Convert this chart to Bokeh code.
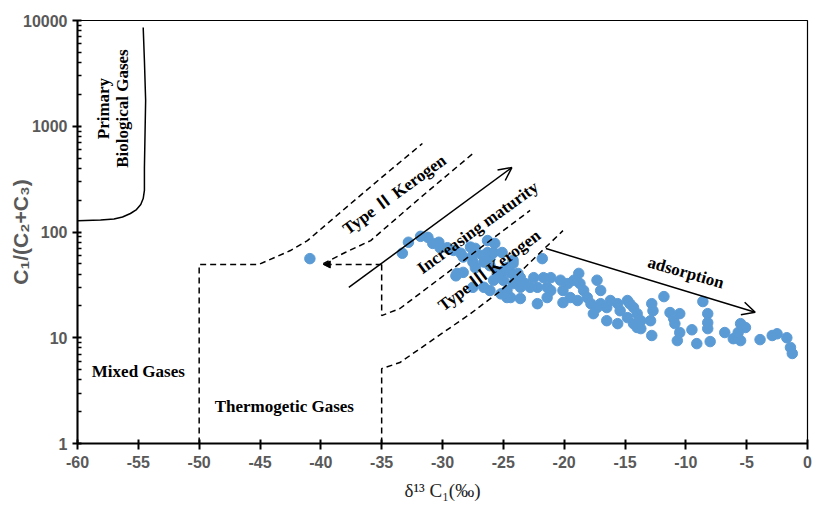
import math
from bokeh.plotting import figure
from bokeh.models import (Range1d, FixedTicker, NumeralTickFormatter, Label,
                          Arrow, OpenHead, NormalHead)
from bokeh.embed import file_html
from bokeh.resources import INLINE

# --- sample data: delta13C1 (permil) and C1/(C2+C3) ---
d13c1 = [
    -40.9, -33.3, -32.8, -31.8, -31.2, -30.8, -30.3, -30.2, -29.6, -29.1,
    -28.5, -28.3, -27.7, -27.3, -27.5, -26.3, -25.7, -26.1, -27.5, -26.7,
    -26.3, -25.8, -25.1, -26.6, -26.1, -27.3, -25.0, -24.4, -24.0, -23.6,
    -22.5, -21.8, -23.2, -22.2, -21.4, -27.5, -26.6, -26.1, -25.2, -24.4,
    -23.6, -24.7, -25.8, -28.8, -28.3, -25.5, -25.0, -24.2, -24.7, -28.9,
    -24.2, -23.8, -24.2, -23.6, -22.8, -21.7, -21.1, -21.1, -21.4, -22.2,
    -24.7, -20.3, -20.1, -19.7, -19.2, -18.8, -18.7, -19.5, -20.1, -18.4,
    -18.1, -18.9, -17.3, -17.0, -17.8, -17.3, -17.6, -17.0, -16.5, -16.2,
    -15.6, -15.4, -16.5, -15.6, -14.8, -14.6, -14.3, -14.8, -14.0, -14.3,
    -14.0, -12.8, -12.7, -12.9, -12.8, -11.8, -13.7, -13.7, -11.3, -11.0,
    -10.5, -10.9, -10.5, -10.7, -9.5, -9.1, -8.6, -8.2, -8.2, -8.2,
    -8.0, -6.8, -6.1, -5.5, -5.1, -5.7, -5.5, -3.9, -2.9, -2.5,
    -1.7, -1.4, -1.25,
]
c1_ratio = [
    56, 63, 80, 91, 89, 78, 80, 71, 71, 67,
    63, 58, 72, 70, 52, 83, 78, 58, 60, 60,
    64, 64, 64, 52, 48, 46, 43, 41, 35, 37,
    37, 56, 32.5, 30, 30, 30, 30, 28, 26, 24,
    23.5, 28, 35, 40.6, 41.5, 40.6, 35, 50.5, 46, 38.5,
    54, 40.6, 32.5, 30, 30, 37, 37, 28, 24, 21,
    24, 35, 28, 32.5, 35, 40.6, 32.5, 24, 21.5, 28,
    24, 22.5, 35, 28, 21, 19.3, 16.9, 21, 19.3, 22.5,
    21, 18, 14.5, 13.6, 22.5, 21, 19.3, 15.5, 16.9, 13.6,
    12.5, 21, 18, 14.5, 10.5, 24.5, 14.5, 12.2, 17.3, 15.2,
    16.9, 13.6, 11.2, 9.4, 11.9, 8.8, 22, 16.9, 13.9, 12.2,
    9.2, 11.2, 9.8, 13.6, 12.5, 11.2, 9.4, 9.6, 10.5, 10.9,
    10.0, 8.1, 7.1,
]

# --- classification boundaries ---
bio_x = [-60, -58.1, -57.0, -56.3, -55.65, -55.15, -54.8, -54.6, -54.5,
         -54.5, -54.4, -54.5, -54.6]
bio_y = [128, 130, 132.7, 138.6, 149.6, 163, 182, 207, 247,
         407, 1750, 4185, 8600]

# thermogenic box edge continuing into the upper Type II boundary
t2_upper_x = [-50, -50, -45.1, -42.5, -41.1, -38.4, -35.1, -31.65]
t2_upper_y = [1, 49.3, 49.3, 66.8, 83, 153, 321, 687]

t2_lower_x = [-39.8, -38.0, -35.9, -31.8, -27.5]
t2_lower_y = [50.3, 64, 83, 212, 552]

t3_upper_x = [-35, -35, -33.5, -22.8]
t3_upper_y = [49.3, 16.2, 18.9, 160]

t3_lower_x = [-35, -35, -33.5, -27.7, -25.2, -20.1]
t3_lower_y = [1, 5.1, 5.83, 16.9, 27.9, 103]

x_ticks = list(range(-60, 1, 5))
x_tick_labels = {t: str(t) for t in x_ticks}
y_ticks = [1, 10, 100, 1000, 10000]
y_minor = [m * 10 ** k for k in range(4) for m in range(2, 10)]

p = figure(width=813, height=506,
           x_range=Range1d(-60, 0), y_range=Range1d(1, 10000),
           y_axis_type="log", output_backend="svg", toolbar_location=None,
           min_border_left=77, min_border_right=6,
           min_border_top=20, min_border_bottom=63)
p.grid.visible = False
p.outline_line_color = "black"
p.outline_line_width = 1.2
p.background_fill_color = "white"
p.border_fill_color = "white"

tick_grey = "#595959"

xa = p.xaxis[0]
xa.ticker = FixedTicker(ticks=x_ticks, minor_ticks=[])
xa.major_label_overrides = x_tick_labels
xa.axis_line_width = 2
xa.axis_line_color = "black"
xa.major_tick_line_width = 2
xa.major_tick_line_color = "black"
xa.major_tick_in = 4
xa.major_tick_out = 6
xa.major_label_text_font = "Liberation Sans"
xa.major_label_text_font_style = "bold"
xa.major_label_text_font_size = "16px"
xa.major_label_text_color = tick_grey
xa.major_label_standoff = 6
xa.axis_label = "δ¹³ C₁(‰)"
xa.axis_label_text_font = "Liberation Serif"
xa.axis_label_text_font_style = "normal"
xa.axis_label_text_font_size = "19px"
xa.axis_label_text_color = "#222222"
xa.axis_label_standoff = 9

ya = p.yaxis[0]
ya.ticker = FixedTicker(ticks=y_ticks, minor_ticks=y_minor)
ya.formatter = NumeralTickFormatter(format="0")
ya.axis_line_width = 2
ya.axis_line_color = "black"
ya.major_tick_line_width = 2
ya.major_tick_line_color = "black"
ya.major_tick_in = 4
ya.major_tick_out = 5
ya.minor_tick_line_color = "black"
ya.minor_tick_line_width = 1.5
ya.minor_tick_in = 4
ya.minor_tick_out = 0
ya.major_label_text_font = "Liberation Sans"
ya.major_label_text_font_style = "bold"
ya.major_label_text_font_size = "16px"
ya.major_label_text_color = tick_grey
ya.major_label_standoff = 5
# title tucked in beside the short middle tick labels
ya.axis_label = "C₁/(C₂+C₃)"
ya.axis_label_text_font = "Liberation Sans"
ya.axis_label_text_font_style = "bold"
ya.axis_label_text_font_size = "21px"
ya.axis_label_text_color = tick_grey
ya.axis_label_standoff = -12

# samples
p.scatter(d13c1, c1_ratio, size=10.5, color="#5B9BD5", line_color="#5B9BD5")

dash = dict(line_color="black", line_width=1.5, line_dash="6 4")
p.line(bio_x, bio_y, line_color="black", line_width=1.5)
p.line(t2_upper_x, t2_upper_y, **dash)
p.line(t2_lower_x, t2_lower_y, **dash)
p.line(t3_upper_x, t3_upper_y, **dash)
p.line(t3_lower_x, t3_lower_y, **dash)

# arrows
p.add_layout(Arrow(x_start=-35, y_start=49.3, x_end=-39.8, y_end=49.3,
                   line_color="black", line_width=1.5, line_dash="6 4",
                   end=NormalHead(size=7, fill_color="black", line_color="black")))
p.add_layout(Arrow(x_start=-37.7, y_start=29.9, x_end=-24.3, y_end=407,
                   line_color="black", line_width=1.5,
                   end=OpenHead(size=13, line_color="black", line_width=1.5)))
p.add_layout(Arrow(x_start=-21.5, y_start=69.8, x_end=-4.3, y_end=17.4,
                   line_color="black", line_width=1.5,
                   end=OpenHead(size=13, line_color="black", line_width=1.5)))

serif = dict(text_font="Liberation Serif, Noto Sans CJK JP",
             text_font_style="bold",
             text_font_size="17px", text_color="black",
             text_align="center", text_baseline="middle")

def note(x, y, text, deg=0.0, **kw):
    style = dict(serif)
    style.update(kw)
    p.add_layout(Label(x=x, y=y, text=text, angle=math.radians(deg), **style))

note(-57.9, 1470, "Primary", 90)
note(-56.3, 1470, "Biological Gases", 90)
note(-33.95, 226, "Type Ⅱ Kerogen", 36)
note(-27.1, 110, "Increasing maturity", 36)
note(-26.15, 43.3, "Type Ⅲ Kerogen", 37)
note(-10.0, 41.4, "adsorption", -16)
note(-55.0, 4.8, "Mixed Gases")
note(-43.0, 2.24, "Thermogetic Gases")

open("out.html", "w").write(file_html(p, INLINE))
